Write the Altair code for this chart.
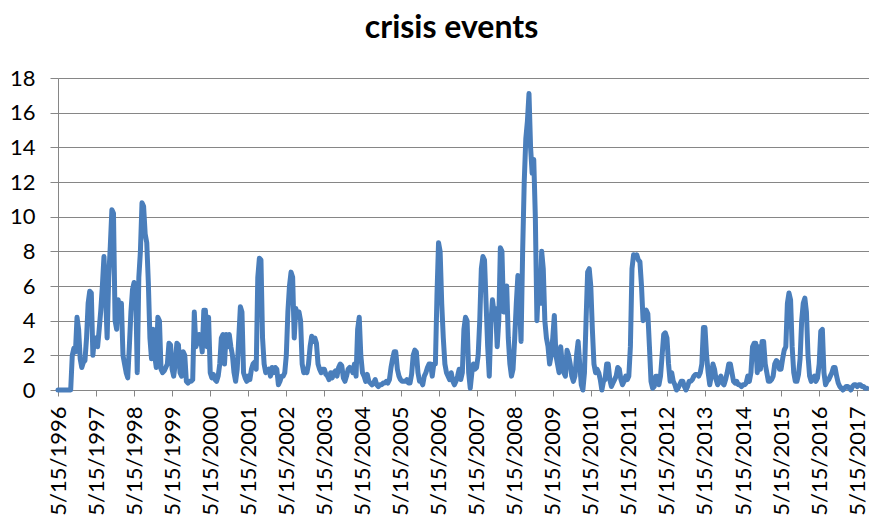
import altair as alt
import pandas as pd

# Crisis-event counts, sampled twice a month; each list runs from 15 May of its year.
events_1996 = [0, 0, 0, 0, 0, 0, 0, 0, 0, 2.0, 2.4, 2.2, 4.2, 3.5, 1.8, 1.3, 1.6, 1.7, 3.0, 5.0, 5.7, 5.6, 2.0, 3.0]
events_1997 = [3.0, 2.5, 3.5, 4.6, 6.0, 7.7, 5.5, 3.0, 6.5, 8.3, 10.4, 10.2, 4.0, 3.5, 5.2, 4.0, 5.0, 2.0, 1.5, 1.0, 0.7, 2.5, 4.5, 5.8]
events_1998 = [6.2, 6.0, 1.0, 6.5, 8.0, 10.8, 10.6, 9.0, 8.5, 6.2, 3.0, 1.8, 3.5, 2.0, 1.3, 4.2, 4.0, 1.2, 1.0, 1.1, 1.3, 1.5, 2.7, 2.6]
events_1999 = [1.2, 0.8, 1.5, 2.7, 2.6, 1.0, 0.8, 2.2, 2.0, 0.5, 0.4, 0.5, 0.5, 0.6, 4.5, 2.5, 2.8, 3.2, 3.0, 2.2, 4.6, 4.6, 2.5, 4.2]
events_2000 = [1.0, 0.7, 0.9, 0.6, 0.5, 0.8, 1.5, 3.0, 3.2, 1.5, 3.2, 2.5, 3.2, 2.5, 2.0, 1.0, 0.5, 1.2, 3.0, 4.8, 4.5, 1.0, 0.7, 0.5]
events_2001 = [0.8, 0.6, 1.2, 1.5, 1.6, 1.2, 6.5, 7.6, 7.5, 3.0, 1.5, 1.0, 1.1, 1.2, 0.8, 1.3, 1.0, 1.3, 1.2, 0.3, 0.5, 0.8, 0.8, 1.0]
events_2002 = [2.0, 4.5, 6.0, 6.8, 6.5, 3.0, 4.7, 4.2, 4.5, 4.0, 1.5, 1.0, 1.2, 1.0, 1.5, 2.5, 3.1, 2.8, 3.0, 2.7, 1.5, 1.2, 1.0, 1.2]
events_2003 = [1.2, 0.9, 0.8, 0.6, 1.0, 0.7, 1.0, 1.1, 0.8, 1.3, 1.5, 1.4, 0.7, 0.5, 0.8, 1.2, 1.3, 1.2, 1.0, 1.5, 0.8, 3.5, 4.2, 2.0]
events_2004 = [1.0, 0.8, 0.5, 0.9, 0.5, 0.4, 0.3, 0.4, 0.6, 0.3, 0.2, 0.3, 0.3, 0.4, 0.4, 0.5, 0.4, 0.6, 1.3, 1.8, 2.2, 2.2, 1.2, 0.8]
events_2005 = [0.6, 0.5, 0.5, 0.5, 0.6, 0.4, 0.4, 0.9, 2.0, 2.3, 2.2, 1.0, 0.5, 0.5, 0.3, 0.8, 1.0, 1.3, 1.5, 1.5, 0.8, 1.5, 1.5, 5.5]
events_2006 = [8.5, 8.0, 5.0, 3.0, 1.5, 1.0, 0.8, 0.6, 1.0, 0.5, 0.3, 0.5, 0.8, 1.2, 0.6, 1.0, 3.5, 4.2, 4.0, 1.0, 0.1, 1.0, 1.5, 1.2]
events_2007 = [1.3, 2.0, 4.0, 7.0, 7.7, 7.5, 5.0, 2.5, 0.8, 3.8, 5.2, 4.5, 4.7, 2.5, 4.0, 8.2, 8.0, 4.5, 5.3, 6.0, 3.0, 1.5, 0.8, 1.2]
events_2008 = [3.0, 5.0, 6.6, 5.0, 2.8, 8.0, 12.0, 14.5, 15.5, 17.1, 14.0, 12.5, 13.3, 10.0, 4.0, 6.0, 5.0, 8.0, 7.0, 4.0, 3.0, 2.5, 1.5, 2.0]
events_2009 = [3.0, 4.3, 2.0, 1.5, 1.0, 2.5, 1.5, 1.0, 0.8, 2.3, 2.0, 1.5, 0.8, 0.5, 0.8, 2.0, 2.8, 1.5, 0.3, 0.0, 1.0, 4.0, 6.8, 7.0]
events_2010 = [6.0, 3.5, 1.5, 1.0, 1.2, 1.0, 0.6, 0.0, 0.5, 0.6, 1.5, 1.5, 0.6, 0.2, 0.4, 0.6, 0.8, 1.3, 1.2, 0.6, 0.3, 0.5, 0.8, 0.6]
events_2011 = [0.8, 2.5, 7.0, 7.8, 7.7, 7.8, 7.5, 7.4, 6.0, 4.0, 4.5, 4.6, 4.4, 2.5, 0.5, 0.1, 0.2, 0.8, 0.8, 0.3, 0.8, 2.0, 3.2, 3.3]
events_2012 = [3.0, 1.5, 0.5, 1.0, 0.5, 0.3, 0.0, 0.1, 0.3, 0.5, 0.5, 0.2, 0.0, 0.2, 0.5, 0.5, 0.6, 0.8, 0.9, 0.9, 0.8, 1.0, 1.5, 3.6]
events_2013 = [3.6, 2.0, 1.0, 0.3, 0.8, 1.5, 1.2, 0.6, 0.3, 0.6, 0.8, 0.4, 0.3, 0.6, 1.0, 1.5, 1.5, 1.0, 0.5, 0.4, 0.5, 0.3, 0.3, 0.2]
events_2014 = [0.3, 0.3, 0.4, 0.8, 0.5, 1.0, 2.5, 2.7, 2.7, 1.0, 2.5, 1.2, 2.8, 2.8, 1.5, 1.0, 0.5, 0.5, 0.6, 0.8, 1.5, 1.7, 1.6, 1.2]
events_2015 = [1.2, 1.8, 2.3, 2.5, 5.0, 5.6, 5.2, 2.5, 1.0, 0.5, 0.5, 0.9, 1.8, 4.0, 5.0, 5.3, 4.5, 2.0, 0.8, 0.5, 0.6, 0.8, 0.5, 0.7]
events_2016 = [1.5, 3.4, 3.5, 1.0, 0.3, 0.5, 0.6, 0.8, 1.0, 1.3, 1.3, 0.8, 0.4, 0.2, 0.1, 0.0, 0.1, 0.2, 0.2, 0.1, 0.0, 0.2, 0.3, 0.3]
events_2017 = [0.2, 0.3, 0.3, 0.2, 0.2, 0.1, 0.1]

seasons = [
    (1996, events_1996), (1997, events_1997), (1998, events_1998), (1999, events_1999),
    (2000, events_2000), (2001, events_2001), (2002, events_2002), (2003, events_2003),
    (2004, events_2004), (2005, events_2005), (2006, events_2006), (2007, events_2007),
    (2008, events_2008), (2009, events_2009), (2010, events_2010), (2011, events_2011),
    (2012, events_2012), (2013, events_2013), (2014, events_2014), (2015, events_2015),
    (2016, events_2016), (2017, events_2017),
]

tick_years = list(range(1996, 2018))

rows = []
for year, values in seasons:
    start = pd.Timestamp(year=year, month=5, day=15)
    for i, v in enumerate(values):
        day = start + pd.Timedelta(days=i * 365.25 / 24)
        rows.append({"date": day.strftime("%Y-%m-%dT%H:%M:%SZ"), "events": v})
df = pd.DataFrame(rows)

FONT = "Lato"
GREY = "#868686"

chart = (
    alt.Chart(df)
    .mark_line(color="#4A7EBB", strokeWidth=5, strokeJoin="round", strokeCap="round")
    .encode(
        x=alt.X(
            "date:T",
            title=None,
            scale=alt.Scale(
                type="utc",
                nice=False,
                domain=[
                    alt.DateTime(year=1996, month=5, date=15, utc=True),
                    alt.DateTime(year=2017, month=9, date=5, utc=True),
                ],
            ),
            axis=alt.Axis(
                values=[alt.DateTime(year=y, month=5, date=15, utc=True) for y in tick_years],
                labelExpr="utcFormat(datum.value, '%-m/%-d/%Y')",
                labelAngle=270,
                labelFont=FONT,
                labelFontSize=22,
                labelColor="#000000",
                labelPadding=10,
                labelOffset=0,
                labelOverlap=False,
                labelBound=False,
                tickSize=6,
                tickColor=GREY,
                domainColor=GREY,
                grid=False,
            ),
        ),
        y=alt.Y(
            "events:Q",
            title=None,
            scale=alt.Scale(domain=[0, 18], nice=False),
            axis=alt.Axis(
                values=list(range(0, 19, 2)),
                labelFont=FONT,
                labelFontSize=22,
                labelColor="#000000",
                labelPadding=15,
                tickSize=8,
                tickColor=GREY,
                domainColor=GREY,
                gridColor=GREY,
                gridWidth=1,
            ),
        ),
    )
    .properties(
        width=811,
        height=312,
        title=alt.TitleParams(
            "crisis events",
            font=FONT,
            fontSize=32,
            fontWeight="bold",
            color="#000000",
            anchor="middle",
            frame="group",
            dx=-12,
            offset=22,
        ),
        autosize=alt.AutoSizeParams(type="none"),
        padding={"left": 58, "top": 78, "right": 0, "bottom": 125},
    )
    .configure_view(stroke=None)
    .configure(background="#ffffff")
)

chart.save("out.html", embed_options={"renderer": "svg", "actions": False})
